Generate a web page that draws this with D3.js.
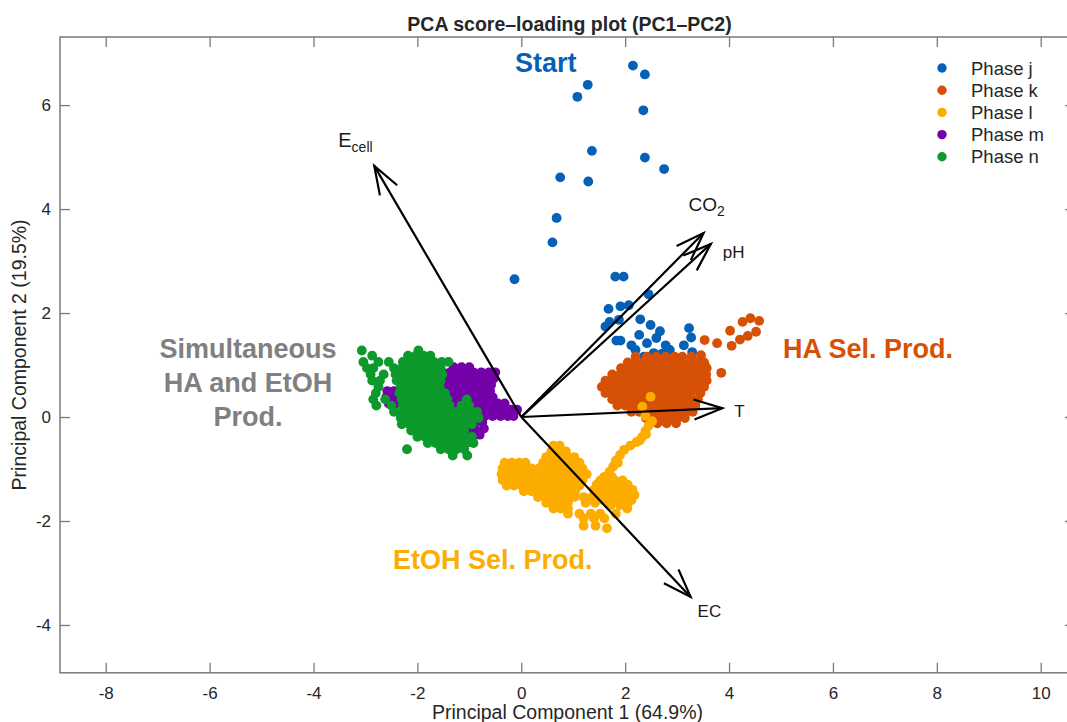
<!DOCTYPE html>
<html>
<head>
<meta charset="utf-8">
<script src="https://cdn.jsdelivr.net/npm/d3@7"></script>
<style>
  body { margin: 0; background: #fff; }
  svg { display: block; font-family: "Liberation Sans", Arial, sans-serif; }
</style>
</head>
<body>
<svg id="chart" width="1067" height="722"></svg>
<script>
// axis ticks
const xTicks = [-8, -6, -4, -2, 0, 2, 4, 6, 8, 10];
const yTicks = [-4, -2, 0, 2, 4, 6];

const phaseNames = ["Phase j", "Phase k", "Phase l", "Phase m", "Phase n"];
const phaseColors = ["#0560b8", "#d65005", "#fcad00", "#7400a9", "#0b9a2b"];

// scores, [PC1, PC2]
const phaseJ = [
  [2.15, 6.76], [2.38, 6.59], [1.28, 6.39], [1.08, 6.16], [2.35, 5.90], [1.36, 5.12],
  [2.38, 4.99], [2.75, 4.77], [0.75, 4.61], [1.29, 4.53], [0.68, 3.83], [0.60, 3.36],
  [-0.13, 2.65], [1.81, 2.70], [1.97, 2.70], [2.45, 2.36], [1.68, 2.08], [1.91, 2.13],
  [2.07, 2.15], [1.62, 1.74], [1.70, 1.83], [1.88, 1.87], [2.29, 1.88], [2.49, 1.77],
  [2.67, 1.65], [3.23, 1.71], [1.83, 1.47], [1.91, 1.47], [2.27, 1.58], [2.12, 1.38],
  [2.60, 1.52], [2.42, 1.42], [2.20, 1.29], [2.78, 1.38], [2.86, 1.29], [3.13, 1.38],
  [3.27, 1.53], [2.55, 1.23], [2.71, 1.22], [2.99, 1.11], [3.29, 1.25], [2.36, 1.16],
  [2.84, 1.13], [3.05, 1.07]
];

const phaseKScatter = [
  [3.53, 1.48], [3.77, 1.42], [4.02, 1.66], [4.05, 1.37], [4.21, 1.49], [4.26, 1.83],
  [4.36, 1.56], [4.41, 1.90], [4.52, 1.64], [4.58, 1.85], [3.46, 1.19], [3.85, 0.85],
  [3.55, 0.97]
];
// dense part, one row per PC2 value: [PC2, [PC1 ...]]
const phaseKRows = [
  [1.16, [2.20, 2.42, 2.60, 2.78, 2.95, 3.10, 3.28]],
  [1.05, [2.05, 2.20, 2.35, 2.50, 2.65, 2.80, 2.95, 3.10, 3.25, 3.40, 3.52]],
  [0.94, [1.92, 2.07, 2.22, 2.37, 2.52, 2.67, 2.82, 2.97, 3.12, 3.27, 3.42, 3.57]],
  [0.82, [1.75, 1.90, 2.05, 2.20, 2.35, 2.50, 2.65, 2.80, 2.95, 3.10, 3.25, 3.40, 3.56]],
  [0.70, [1.62, 1.77, 1.92, 2.07, 2.22, 2.37, 2.52, 2.67, 2.82, 2.97, 3.12, 3.27, 3.42, 3.57]],
  [0.58, [1.55, 1.70, 1.85, 2.00, 2.15, 2.30, 2.45, 2.60, 2.75, 2.90, 3.05, 3.20, 3.35, 3.52]],
  [0.46, [1.62, 1.77, 1.92, 2.07, 2.22, 2.37, 2.52, 2.67, 2.82, 2.97, 3.12, 3.27, 3.45]],
  [0.34, [1.75, 1.90, 2.05, 2.20, 2.35, 2.50, 2.65, 2.80, 2.95, 3.10, 3.25, 3.40]],
  [0.22, [1.85, 2.00, 2.15, 2.30, 2.45, 2.60, 2.75, 2.90, 3.05, 3.20, 3.35]],
  [0.10, [2.12, 2.27, 2.42, 2.57, 2.72, 2.87, 3.02, 3.17, 3.30]],
  [-0.02, [2.40, 2.55, 2.70, 2.85, 3.00, 3.15]],
  [-0.12, [2.62, 2.80, 2.98]]
];

const phaseLScatter = [
  [2.49, 0.39], [2.33, 0.20], [2.39, 0.02], [2.52, -0.08], [2.45, -0.17], [2.39, -0.27],
  [2.40, -0.33], [2.33, -0.38], [2.28, -0.45], [2.22, -0.48], [2.10, -0.55], [1.98, -0.63],
  [1.90, -0.73], [1.86, -0.88], [1.82, -0.84], [1.77, -0.95], [1.70, -1.05]
];
const phaseLRows = [
  [-0.55, [0.62, 0.74]],
  [-0.66, [0.58, 0.72, 0.86]],
  [-0.77, [0.48, 0.62, 0.76, 0.90, 1.02]],
  [-0.88, [-0.32, -0.18, -0.04, 0.08, 0.42, 0.56, 0.70, 0.84, 0.98, 1.12]],
  [-0.99, [-0.36, -0.22, -0.08, 0.06, 0.20, 0.34, 0.48, 0.62, 0.76, 0.90, 1.04, 1.18]],
  [-1.10, [-0.38, -0.24, -0.10, 0.04, 0.18, 0.32, 0.46, 0.60, 0.74, 0.88, 1.02, 1.16, 1.26]],
  [-1.15, [1.60, 1.74]],
  [-1.21, [-0.36, -0.22, -0.08, 0.06, 0.20, 0.34, 0.48, 0.62, 0.76, 0.90, 1.04, 1.18]],
  [-1.22, [1.52, 1.66, 1.80, 1.95]],
  [-1.30, [1.45, 1.60, 1.75, 1.90, 2.05]],
  [-1.32, [-0.28, -0.14, 0.00, 0.14, 0.28, 0.42, 0.56, 0.70, 0.84, 0.98, 1.12]],
  [-1.40, [1.40, 1.55, 1.70, 1.85, 2.00, 2.14]],
  [-1.43, [0.05, 0.20, 0.34, 0.48, 0.62, 0.76, 0.90, 1.04]],
  [-1.50, [1.48, 1.62, 1.76, 1.90, 2.04, 2.18]],
  [-1.54, [0.32, 0.46, 0.60, 0.74, 0.88, 1.02, 1.20, 1.36]],
  [-1.60, [1.58, 1.72, 1.86, 2.00, 2.12]],
  [-1.65, [0.48, 0.62, 0.76, 0.90, 1.24, 1.42]],
  [-1.70, [1.72, 1.90, 2.04]],
  [-1.76, [0.62, 0.76, 0.90, 2.04]],
  [-1.86, [0.90, 1.12, 1.34, 1.52, 1.82]],
  [-1.95, [1.20, 1.40, 1.60]],
  [-2.09, [1.20, 1.43]],
  [-2.14, [1.65]]
];

const phaseMRows = [
  [0.96, [-1.30, -1.15, -1.00]],
  [0.86, [-1.52, -1.37, -1.22, -1.07, -0.92, -0.77, -0.62, -0.50]],
  [0.74, [-1.58, -1.43, -1.28, -1.13, -0.98, -0.83, -0.68, -0.53]],
  [0.62, [-1.60, -1.45, -1.30, -1.15, -1.00, -0.85, -0.70, -0.58]],
  [0.50, [-2.58, -2.45, -1.60, -1.45, -1.30, -1.15, -1.00, -0.85, -0.70, -0.60]],
  [0.38, [-2.60, -2.45, -1.58, -1.43, -1.28, -1.13, -0.98, -0.83, -0.68, -0.55]],
  [0.26, [-2.55, -2.42, -1.50, -1.35, -1.20, -1.05, -0.90, -0.75, -0.60, -0.45, -0.32]],
  [0.14, [-1.40, -1.25, -1.10, -0.95, -0.80, -0.65, -0.50, -0.35, -0.20, -0.08]],
  [0.02, [-1.30, -1.15, -1.00, -0.85, -0.70, -0.55, -0.40, -0.26, -0.15]],
  [-0.10, [-1.20, -1.05, -0.90, -0.75]],
  [-0.22, [-1.20, -1.05, -0.90, -0.72]],
  [-0.34, [-1.10, -0.95, -0.80]],
  [-0.42, [-0.95]]
];

const phaseNRows = [
  [1.28, [-3.07, -1.98]],
  [1.18, [-2.87, -2.18, -2.03, -1.88, -1.75]],
  [1.06, [-3.04, -2.75, -2.55, -2.28, -2.13, -1.98, -1.83, -1.68, -1.53, -1.40]],
  [0.94, [-2.97, -2.85, -2.45, -2.30, -2.15, -2.00, -1.85, -1.70, -1.55]],
  [0.82, [-2.90, -2.65, -2.42, -2.27, -2.12, -1.97, -1.82, -1.67, -1.52]],
  [0.70, [-2.87, -2.72, -2.40, -2.25, -2.10, -1.95, -1.80, -1.65, -1.55]],
  [0.58, [-2.75, -2.32, -2.17, -2.02, -1.87, -1.72, -1.57]],
  [0.46, [-2.80, -2.35, -2.20, -2.05, -1.90, -1.75, -1.60, -1.47]],
  [0.34, [-2.85, -2.62, -2.30, -2.15, -2.00, -1.85, -1.70, -1.55, -1.42, -1.05]],
  [0.22, [-2.79, -2.50, -2.28, -2.13, -1.98, -1.83, -1.68, -1.53, -1.38, -1.15, -1.00]],
  [0.10, [-2.45, -2.30, -2.15, -2.00, -1.85, -1.70, -1.55, -1.40, -1.25, -1.10, -0.95, -0.85]],
  [-0.02, [-2.32, -2.17, -2.02, -1.87, -1.72, -1.57, -1.42, -1.27, -1.12, -0.97, -0.82]],
  [-0.14, [-2.30, -2.15, -2.00, -1.85, -1.70, -1.55, -1.40, -1.25, -1.10, -0.95]],
  [-0.26, [-2.12, -1.97, -1.82, -1.67, -1.52, -1.37, -1.22, -1.10]],
  [-0.38, [-2.00, -1.85, -1.70, -1.55, -1.40, -1.25, -1.10, -0.95]],
  [-0.50, [-1.80, -1.65, -1.50, -1.35, -1.20, -1.05, -0.92]],
  [-0.62, [-2.20, -1.55, -1.40, -1.25, -1.10]],
  [-0.74, [-1.32, -1.04]]
];

// loadings (arrow tips)
const loadingNames = ["E", "CO", "pH", "T", "EC"];
const loadingSubs = ["cell", "2", "", "", ""];
const loadingX = [-2.83, 3.51, 3.65, 3.87, 3.26];
const loadingY = [4.83, 3.54, 3.33, 0.17, -3.46];

const fromRows = rows => rows.flatMap(([y, xs]) => xs.map(x => [x, y]));

const phases = [
  phaseJ,
  phaseKScatter.concat(fromRows(phaseKRows)),
  phaseLScatter.concat(fromRows(phaseLRows)),
  fromRows(phaseMRows),
  fromRows(phaseNRows)
];

const svg = d3.select("#chart");
const margin = {left: 60, top: 37, right: 1075, bottom: 672.8};

const x = d3.scaleLinear().domain([-8.88, 10.66]).range([margin.left, margin.right]);
const y = d3.scaleLinear().domain([-4.92, 7.31]).range([margin.bottom, margin.top]);

// points
const g = svg.append("g");
phases.forEach((pts, i) => {
  g.append("g").selectAll("circle")
    .data(pts)
    .join("circle")
    .attr("cx", d => x(d[0]))
    .attr("cy", d => y(d[1]))
    .attr("r", 4.9)
    .attr("fill", phaseColors[i]);
});

// loading arrows
const arrows = svg.append("g").attr("stroke", "#000").attr("fill", "none")
  .attr("stroke-width", 2.2).attr("stroke-linejoin", "miter");
const line = d3.line();
const labelOffsets = [[-36, -19], [-15, -22], [12, 14], [12, 9], [7, 20]];
const mainSize = [20, 19, 17, 17, 17];
loadingX.forEach((lx, i) => {
  const x0 = x(0), y0 = y(0), x1 = x(lx), y1 = y(loadingY[i]);
  const a = Math.atan2(y0 - y1, x0 - x1);
  const len = 30, ang = 0.34;
  arrows.append("path").attr("d", line([[x0, y0], [x1, y1]]));
  arrows.append("path").attr("d", line([
    [x1 + len * Math.cos(a + ang), y1 + len * Math.sin(a + ang)],
    [x1, y1],
    [x1 + len * Math.cos(a - ang), y1 + len * Math.sin(a - ang)]
  ]));
  const t = svg.append("text")
    .attr("x", x1 + labelOffsets[i][0])
    .attr("y", y1 + labelOffsets[i][1])
    .attr("font-size", mainSize[i]).attr("fill", "#1a1a1a")
    .text(loadingNames[i]);
  if (loadingSubs[i]) {
    t.append("tspan").attr("dy", 5).attr("font-size", 14).text(loadingSubs[i]);
  }
});

// axes box with inward ticks
const axisColor = "#7a7a7a";
const styleAxis = sel => {
  sel.select(".domain").remove();
  sel.selectAll(".tick line").attr("stroke", axisColor).attr("stroke-width", 1.3);
  sel.selectAll(".tick text").attr("fill", "#262626").attr("font-size", 17)
    .attr("font-family", "Liberation Sans, Arial, sans-serif");
};
const plain = d => String(d);
svg.append("g").attr("transform", `translate(0,${margin.bottom})`)
  .call(d3.axisBottom(x).tickValues(xTicks).tickFormat(plain).tickSizeInner(-10).tickSizeOuter(0).tickPadding(14))
  .call(styleAxis);
svg.append("g").attr("transform", `translate(0,${margin.top})`)
  .call(d3.axisTop(x).tickValues(xTicks).tickSizeInner(-10).tickSizeOuter(0).tickFormat(""))
  .call(styleAxis);
svg.append("g").attr("transform", `translate(${margin.left},0)`)
  .call(d3.axisLeft(y).tickValues(yTicks).tickFormat(plain).tickSizeInner(-10).tickSizeOuter(0).tickPadding(9))
  .call(styleAxis);
svg.append("g").attr("transform", `translate(${margin.right},0)`)
  .call(d3.axisRight(y).tickValues(yTicks).tickSizeInner(-10).tickSizeOuter(0).tickFormat(""))
  .call(styleAxis);
svg.append("rect")
  .attr("x", margin.left).attr("y", margin.top)
  .attr("width", margin.right - margin.left).attr("height", margin.bottom - margin.top)
  .attr("fill", "none").attr("stroke", axisColor).attr("stroke-width", 1.5);

// title and axis labels
const midX = (margin.left + margin.right) / 2;
svg.append("text").attr("x", midX + 2).attr("y", 31).attr("text-anchor", "middle")
  .attr("font-size", 19.5).attr("font-weight", "bold").attr("fill", "#262626")
  .text("PCA score\u2013loading plot (PC1\u2013PC2)");
svg.append("text").attr("x", midX).attr("y", 719).attr("text-anchor", "middle")
  .attr("font-size", 19.5).attr("fill", "#262626")
  .text("Principal Component 1 (64.9%)");
svg.append("text")
  .attr("transform", `translate(26,${(margin.top + margin.bottom) / 2}) rotate(-90)`)
  .attr("text-anchor", "middle").attr("font-size", 19.5).attr("fill", "#262626")
  .text("Principal Component 2 (19.5%)");

// region annotations
const note = (tx, ty, anchor, color, lines) => {
  const t = svg.append("text").attr("x", tx).attr("y", ty).attr("text-anchor", anchor)
    .attr("font-size", 27).attr("font-weight", "bold").attr("fill", color);
  lines.forEach((s, k) => t.append("tspan").attr("x", tx).attr("dy", k ? 34 : 0).text(s));
};
note(515, 72, "start", phaseColors[0], ["Start"]);
note(783, 358, "start", phaseColors[1], ["HA Sel. Prod."]);
note(393, 569, "start", phaseColors[2], ["EtOH Sel. Prod."]);
note(248, 358, "middle", "#808080", ["Simultaneous", "HA and EtOH", "Prod."]);

// legend
const legend = svg.append("g");
phaseNames.forEach((name, i) => {
  const ly = 68 + i * 22.2;
  legend.append("circle").attr("cx", 942).attr("cy", ly).attr("r", 4.7).attr("fill", phaseColors[i]);
  legend.append("text").attr("x", 971).attr("y", ly + 6.5)
    .attr("font-size", 18.5).attr("fill", "#262626").text(name);
});
</script>
</body>
</html>
